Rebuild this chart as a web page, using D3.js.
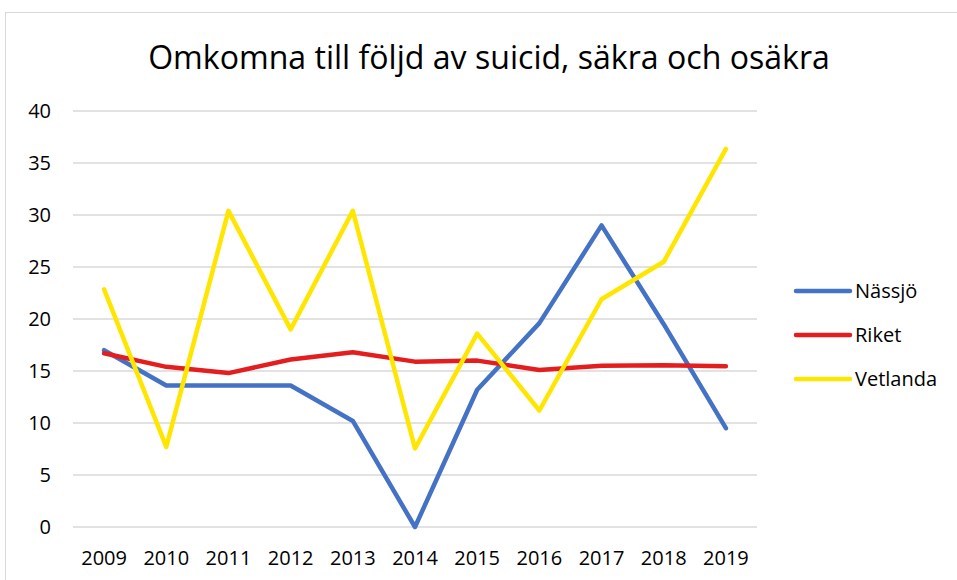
<!DOCTYPE html>
<html>
<head>
<meta charset="utf-8">
<script src="https://cdn.jsdelivr.net/npm/d3@7"></script>
<style>
  body { margin: 0; background: #fff; }
  text { font-family: "Open Sans", "Noto Sans", sans-serif; fill: #000; }
</style>
</head>
<body>
<div id="chart"></div>
<script>
// data
var years = ["2009", "2010", "2011", "2012", "2013", "2014", "2015", "2016", "2017", "2018", "2019"];
var nassjo = [17.0, 13.6, 13.6, 13.6, 10.2, 0, 13.2, 19.6, 29.0, 19.5, 9.5];
var riket = [16.7, 15.4, 14.8, 16.1, 16.8, 15.9, 16.0, 15.1, 15.5, 15.55, 15.45];
var vetlanda = [22.85, 7.7, 30.4, 19.0, 30.4, 7.55, 18.6, 11.2, 21.9, 25.5, 36.35];
var yTicks = [0, 5, 10, 15, 20, 25, 30, 35, 40];
var seriesNames = ["Nässjö", "Riket", "Vetlanda"];

var series = [
  { name: seriesNames[0], values: nassjo, color: "#4472C4" },
  { name: seriesNames[1], values: riket, color: "#E41E1E" },
  { name: seriesNames[2], values: vetlanda, color: "#FFE600" }
];

var svgWidth = 957;
var svgHeight = 580;

var margin = { top: 111, right: 200, bottom: 53, left: 73 };
var width = 757 - margin.left;
var height = 527 - margin.top;

var svg = d3.select("#chart")
  .append("svg")
  .attr("width", svgWidth)
  .attr("height", svgHeight);

// chart border
svg.append("rect")
  .attr("x", 5.5)
  .attr("y", 12.5)
  .attr("width", 960)
  .attr("height", 600)
  .attr("fill", "none")
  .attr("stroke", "#d9d9d9")
  .attr("stroke-width", 1);

// title, sized to the reference width
var title = svg.append("text")
  .attr("x", 489)
  .attr("y", 69)
  .attr("text-anchor", "middle")
  .attr("font-size", 30)
  .text("Omkomna till följd av suicid, säkra och osäkra");
var tw = title.node().getComputedTextLength();
title.attr("font-size", 30 * 682 / tw);

var chartGroup = svg.append("g")
  .attr("transform", `translate(${margin.left}, ${margin.top})`);

var xScale = d3.scaleBand()
  .domain(years)
  .range([0, width]);

var yScale = d3.scaleLinear()
  .domain([0, 40])
  .range([height, 0]);

// gridlines
chartGroup.append("g")
  .selectAll("line")
  .data(yTicks)
  .enter()
  .append("line")
  .attr("x1", 0)
  .attr("x2", width)
  .attr("y1", d => yScale(d))
  .attr("y2", d => yScale(d))
  .attr("stroke", "#d9d9d9")
  .attr("stroke-width", 1.5);

// y axis labels
var leftAxis = d3.axisLeft(yScale).tickValues(yTicks).tickSize(0).tickPadding(22);
chartGroup.append("g")
  .call(leftAxis)
  .call(g => g.select(".domain").remove())
  .selectAll("text")
  .attr("font-size", 20)
  .attr("font-family", "\"Open Sans\", sans-serif")
  .attr("fill", "#000");

// x axis labels
var bottomAxis = d3.axisBottom(xScale).tickSize(0).tickPadding(24);
chartGroup.append("g")
  .attr("transform", `translate(0, ${height})`)
  .call(bottomAxis)
  .call(g => g.select(".domain").remove())
  .selectAll("text")
  .attr("font-size", 20)
  .attr("font-family", "\"Open Sans\", sans-serif")
  .attr("fill", "#000");

var line = d3.line()
  .x((d, i) => xScale(years[i]) + xScale.bandwidth() / 2)
  .y(d => yScale(d));

chartGroup.selectAll(".series")
  .data(series)
  .enter()
  .append("path")
  .attr("class", "series")
  .attr("d", d => line(d.values))
  .attr("fill", "none")
  .attr("stroke", d => d.color)
  .attr("stroke-width", 4.5)
  .attr("stroke-linejoin", "round")
  .attr("stroke-linecap", "round");

// legend
var legend = svg.append("g")
  .attr("transform", "translate(796, 291)");

var legendItems = legend.selectAll("g")
  .data(series)
  .enter()
  .append("g")
  .attr("transform", (d, i) => `translate(0, ${i * 44})`);

legendItems.append("line")
  .attr("x1", 0)
  .attr("x2", 54)
  .attr("stroke", d => d.color)
  .attr("stroke-width", 4.5)
  .attr("stroke-linecap", "round");

legendItems.append("text")
  .attr("x", 59)
  .attr("y", 7)
  .attr("font-size", 20)
  .text(d => d.name);
</script>
</body>
</html>
